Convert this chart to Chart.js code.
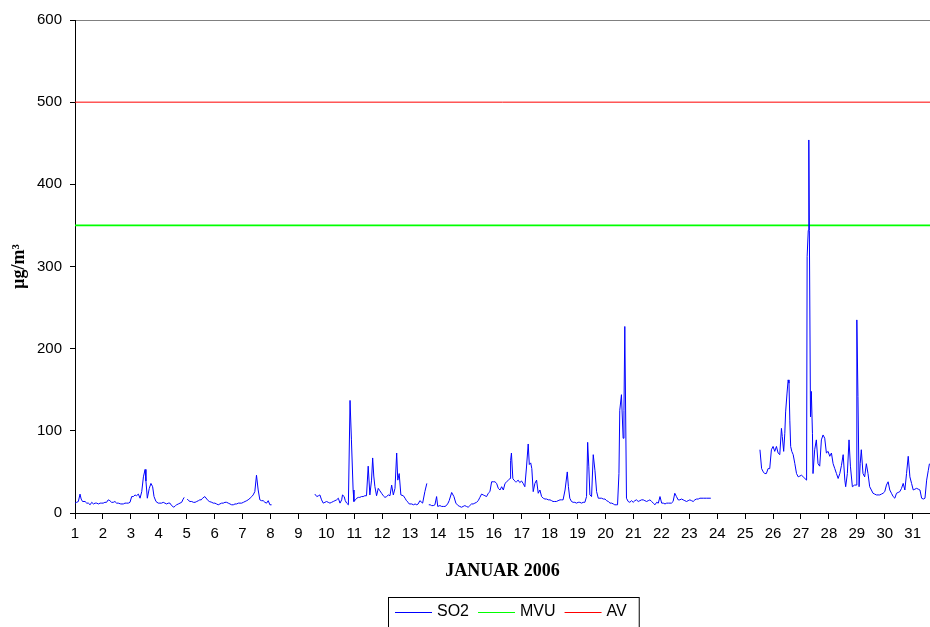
<!DOCTYPE html>
<html>
<head>
<meta charset="utf-8">
<script src="https://cdn.jsdelivr.net/npm/chart.js@4.4.1/dist/chart.umd.min.js"></script>
<style>
  html, body { margin: 0; padding: 0; background: #fff; }
  #chart { display: block; }
</style>
</head>
<body>
<canvas id="chart" width="930" height="627"></canvas>
<script>
const so2Day = [
  1.00, 1.06, 1.12, 1.18, 1.22, 1.27, 1.36, 1.42, 1.48, 1.54, 1.60, 1.66, 1.72, 1.78, 1.84, 1.90, 1.96,
  2.01, 2.07, 2.13, 2.19, 2.25, 2.31, 2.37, 2.43, 2.49, 2.55, 2.64, 2.73, 2.79, 2.85, 2.91, 2.97,
  3.03, 3.09, 3.15, 3.20, 3.27, 3.33, 3.39, 3.45, 3.51, 3.54, 3.59, 3.66, 3.72, 3.78, 3.83, 3.90, 3.98,
  4.04, 4.10, 4.16, 4.22, 4.28, 4.34, 4.40, 4.46, 4.54, 4.60, 4.64, 4.70, 4.76, 4.82, 4.86, 4.91, 4.96,
  5.02, 5.07, 5.12, 5.18, 5.24, 5.30, 5.36, 5.42, 5.47, 5.52, 5.57, 5.65, 5.72, 5.77, 5.81, 5.90, 5.95,
  6.01, 6.07, 6.13, 6.19, 6.25, 6.31, 6.37, 6.43, 6.49, 6.55, 6.61, 6.67, 6.73, 6.79, 6.85, 6.91, 6.97,
  7.03, 7.09, 7.15, 7.20, 7.27, 7.33, 7.38, 7.44, 7.50, 7.56, 7.62, 7.68, 7.74, 7.80, 7.86, 7.92, 7.98,
  8.04, 8.10,
  9.59, 9.66, 9.72, 9.77, 9.83, 9.89, 9.95,
  10.01, 10.07, 10.13, 10.19, 10.25, 10.31, 10.37, 10.43, 10.49, 10.55, 10.58, 10.64, 10.68, 10.73, 10.79, 10.85, 10.90, 10.96, 10.99,
  11.04, 11.09, 11.15, 11.20, 11.26, 11.32, 11.38, 11.44, 11.50, 11.56, 11.62, 11.66, 11.70, 11.74, 11.80, 11.86, 11.92, 11.98,
  12.04, 12.10, 12.16, 12.22, 12.28, 12.34, 12.40, 12.46, 12.52, 12.56, 12.61, 12.67, 12.76, 12.82, 12.87, 12.93, 12.97,
  13.06, 13.12, 13.18, 13.24, 13.29, 13.35, 13.45, 13.53, 13.60, 13.63, 13.67, 13.72, 13.77, 13.83, 13.89, 13.95, 13.99,
  14.07, 14.13, 14.19, 14.25, 14.30, 14.36, 14.40, 14.49, 14.57, 14.64, 14.72, 14.78, 14.84, 14.90, 14.96,
  15.02, 15.08, 15.14, 15.20, 15.26, 15.32, 15.38, 15.44, 15.50, 15.56, 15.62, 15.68, 15.74, 15.80, 15.86, 15.92, 15.98,
  16.04, 16.10, 16.16, 16.22, 16.28, 16.34, 16.40, 16.46, 16.52, 16.58, 16.60, 16.63, 16.68, 16.72, 16.78, 16.81, 16.87, 16.93, 16.99,
  17.05, 17.11, 17.17, 17.23, 17.27, 17.32, 17.36, 17.41, 17.47, 17.53, 17.59, 17.65, 17.71, 17.77, 17.83, 17.89, 17.95,
  18.01, 18.07, 18.12, 18.18, 18.24, 18.30, 18.37, 18.42, 18.48, 18.55, 18.63, 18.67, 18.72, 18.78, 18.84, 18.90, 18.96,
  19.02, 19.08, 19.14, 19.20, 19.26, 19.32, 19.36, 19.40, 19.44, 19.50, 19.56, 19.62, 19.68, 19.74, 19.80, 19.86, 19.92, 19.98,
  20.04, 20.10, 20.16, 20.22, 20.28, 20.33, 20.38, 20.43, 20.48, 20.51, 20.57, 20.63, 20.66, 20.69, 20.75, 20.81, 20.87, 20.93, 20.99,
  21.05, 21.11, 21.17, 21.23, 21.29, 21.35, 21.41, 21.47, 21.53, 21.59, 21.65, 21.71, 21.77, 21.83, 21.89, 21.95,
  22.01, 22.07, 22.13, 22.19, 22.25, 22.31, 22.36, 22.42, 22.48, 22.54, 22.60, 22.66, 22.72, 22.78, 22.84, 22.90, 22.96,
  23.02, 23.08, 23.14, 23.20, 23.26, 23.32, 23.38, 23.50, 23.62, 23.77, 23.80,
  25.53, 25.59, 25.65, 25.70, 25.76, 25.82, 25.88, 25.94,
  26.00, 26.06, 26.12, 26.18, 26.24, 26.30, 26.33, 26.38, 26.42, 26.45, 26.50, 26.54, 26.57, 26.60, 26.63, 26.67, 26.72, 26.78, 26.84, 26.90, 26.96,
  27.02, 27.08, 27.14, 27.20, 27.22, 27.26, 27.28, 27.30, 27.34, 27.37, 27.41, 27.43, 27.49, 27.55, 27.61, 27.67, 27.73, 27.79, 27.85, 27.91, 27.97,
  28.03, 28.09, 28.15, 28.21, 28.27, 28.33, 28.39, 28.45, 28.51, 28.57, 28.60, 28.66, 28.72, 28.77, 28.84, 28.92, 28.98,
  29.00, 29.04, 29.08, 29.12, 29.16, 29.22, 29.28, 29.34, 29.40, 29.46, 29.52, 29.58, 29.64, 29.70, 29.76, 29.82, 29.88, 29.94,
  30.00, 30.06, 30.12, 30.18, 30.24, 30.30, 30.36, 30.42, 30.48, 30.54, 30.60, 30.66, 30.72, 30.78, 30.84, 30.90, 30.96,
  31.02, 31.08, 31.14, 31.20, 31.26, 31.32, 31.38, 31.44, 31.50, 31.56, 31.60
];

// SO2 concentration in µg/m³, same order as so2Day
const so2Value = [
  12, 13, 14, 23, 17, 14, 14, 12, 12, 10, 13, 11, 12, 12, 11, 12, 12,
  12, 13, 13, 16, 15, 13, 13, 14, 12, 12, 11, 11, 12, 12, 12, 13,
  20, 20, 22, 21, 23, 18, 26, 44, 53, 39, 18, 30, 36, 32, 20, 14, 12,
  12, 12, 13, 12, 11, 12, 12, 9, 7, 9, 10, 11, 12, 13, 16, 19, null,
  17, 15, 14, 14, 13, 13, 14, 15, 16, 16, 18, 20, 17, 15, 14, 13, 12,
  12, 11, 10, 11, 12, 12, 13, 13, 12, 11, 10, 10, 11, 11, 12, 12, 12,
  13, 14, 15, 16, 18, 20, 22, 26, 46, 28, 16, 15, 15, 13, 12, 15, 10,
  10, null,
  23, 20, 21, 22, 16, 12, 13,
  14, 13, 12, 13, 14, 15, 16, 18, 12, 16, 22, 20, 15, 12, 10, 137, 89, 28, 14,
  16, 18, 19, 19, 20, 20, 21, 21, 57, 22, 40, 67, 45, 32, 21, 30, 27, 24,
  21, 19, 20, 22, 21, 34, 22, 30, 73, 40, 48, 22, 21, 18, 15, 13, 11,
  11, 10, 11, 10, 11, 15, 12, 26, 36, null, 10, 10, 9, 9, 10, 20, 8,
  9, 8, 8, 8, 9, 12, 15, 25, 20, 12, 9, 8, 7, 8, 9,
  8, 7, 9, 11, 11, 12, 13, 15, 19, 23, 22, 21, 20, 24, 26, 38, 38,
  38, 36, 30, 28, 32, 28, 36, 38, 40, 42, 64, 73, 42, 40, 38, 38, 40, 37, 39,
  36, 32, 56, 84, 59, 61, 54, 26, 36, 40, 24, 28, 20, 18, 17, 17, 16,
  16, 15, 14, 14, 14, 15, 16, 16, 16, 28, 50, 32, 18, 14, 13, 13, 12,
  13, 13, 12, 13, 13, 20, 86, 57, 22, 20, 71, 52, 26, 18, 18, 18, 17, 17,
  15, 14, 12, 12, 11, 10, 10, 10, 48, 125, 144, 91, 125, 227, 18, 14, 13, 15, 13,
  15, 16, 14, 15, 16, 16, 15, 14, 15, 16, 14, 12, 10, 13, 12, 20,
  12, 12, 11, 12, 12, 12, 12, 14, 24, 20, 16, 16, 17, 16, 15, 14, 15,
  16, 15, 14, 16, 17, 17, 18, 18, 18, 18, null,
  77, 54, 50, 48, 48, 54, 54, 77,
  81, 75, 81, 73, 71, 103, 93, 75, 97, 123, 146, 162, 158, 113, 81, 75, 71, 60, 48, 44, 45,
  46, 44, 42, 40, 312, 344, 454, 344, 117, 148, 97, 48, 77, 89, 60, 57, 89, 95, 91, 73, 75,
  69, 73, 60, 54, 48, 42, 48, 58, 71, 40, 32, 48, 89, 57, 32, 34, 34,
  235, 142, 32, 60, 77, 48, 44, 60, 48, 32, 28, 24, 23, 22, 22, 22, 23, 24,
  26, 34, 38, 28, 24, 20, 18, 24, 25, 26, 30, 36, 28, 48, 69, 44, 36,
  28, 29, 30, 29, 28, 18, 17, 18, 40, 52, 60
];

const dayTicks = [1, 2, 3, 4, 5, 6, 7, 8, 9, 10, 11, 12, 13, 14, 15, 16,
  17, 18, 19, 20, 21, 22, 23, 24, 25, 26, 27, 28, 29, 30, 31];
const monthEnd = 31.62;   // last hour shown on the axis
const mvuLimit = 350;
const avLimit = 500;
const yTicks = [0, 100, 200, 300, 400, 500, 600];

const sansFont = '"Liberation Sans", Arial, sans-serif';
const serifFont = '"Liberation Serif", "Times New Roman", serif';

// legend with a frame, like the original
const framedLegend = {
    id: 'framedLegend',
    afterDraw(chart) {
        const ctx = chart.ctx;
        const items = chart.data.datasets;
        const lineLen = 37;
        const gapAfterLine = 5;
        const gapAfterText = 9;
        const boxLeft = 388, boxTop = 597, midY = 612;
        ctx.save();
        ctx.font = '16px ' + sansFont;
        ctx.textBaseline = 'middle';
        let x = boxLeft + 7;
        items.forEach(ds => {
            ctx.strokeStyle = ds.borderColor;
            ctx.lineWidth = 1;
            ctx.beginPath();
            ctx.moveTo(x, midY + 0.5);
            ctx.lineTo(x + lineLen, midY + 0.5);
            ctx.stroke();
            x += lineLen + gapAfterLine;
            ctx.fillStyle = '#000';
            ctx.fillText(ds.label, x, midY);
            x += ctx.measureText(ds.label).width + gapAfterText;
        });
        ctx.strokeStyle = '#000';
        ctx.strokeRect(boxLeft + 0.5, boxTop + 0.5, x - boxLeft + 3, 40);
        ctx.restore();
    }
};

const so2Points = so2Day.map((d, i) => ({ x: d, y: so2Value[i] }));

new Chart(document.getElementById('chart'), {
    type: 'line',
    data: {
        datasets: [{
            label: 'SO2',
            data: so2Points,
            borderColor: '#0000ff',
            borderWidth: 1,
            pointRadius: 0,
            tension: 0,
            spanGaps: false
        }, {
            label: 'MVU',
            data: [{ x: dayTicks[0], y: mvuLimit }, { x: monthEnd, y: mvuLimit }],
            borderColor: '#00ff00',
            borderWidth: 1.6,
            pointRadius: 0
        }, {
            label: 'AV',
            data: [{ x: dayTicks[0], y: avLimit }, { x: monthEnd, y: avLimit }],
            borderColor: '#ff0000',
            borderWidth: 1,
            pointRadius: 0
        }]
    },
    options: {
        responsive: false,
        animation: false,
        devicePixelRatio: 1,
        layout: { padding: { top: 20, left: 0, right: 0, bottom: 0 } },
        plugins: {
            legend: { display: false },
            tooltip: { enabled: false }
        },
        scales: {
            x: {
                type: 'linear',
                min: dayTicks[0],
                max: monthEnd,
                afterBuildTicks: scale => {
                    scale.ticks = dayTicks.map(v => ({ value: v }));
                },
                afterFit: scale => { scale.height = 114; },
                ticks: {
                    autoSkip: false,
                    maxRotation: 0,
                    padding: 6,
                    color: '#000',
                    font: { size: 15, family: sansFont }
                },
                grid: {
                    color: 'transparent',
                    tickColor: '#000',
                    tickLength: 6
                },
                border: { display: true, color: '#000', width: 1 },
                title: {
                    display: true,
                    text: 'JANUAR 2006',
                    color: '#000',
                    font: { size: 18, weight: 'bold', family: serifFont },
                    padding: { top: 0, bottom: 45 }
                }
            },
            y: {
                min: yTicks[0],
                max: yTicks[yTicks.length - 1],
                afterBuildTicks: scale => {
                    scale.ticks = yTicks.map(v => ({ value: v }));
                },
                afterFit: scale => { scale.width = 75; },
                ticks: {
                    padding: 8,
                    color: '#000',
                    font: { size: 15, family: sansFont }
                },
                grid: {
                    color: ctx => (ctx.tick && ctx.tick.value === 600) ? '#808080' : 'transparent',
                    tickColor: '#000',
                    tickLength: 5
                },
                border: { display: true, color: '#000', width: 1 },
                title: {
                    display: true,
                    text: 'µg/m³',
                    color: '#000',
                    font: { size: 18, weight: 'bold', family: serifFont },
                    padding: { top: 9, bottom: 0 }
                }
            }
        }
    },
    plugins: [framedLegend]
});
</script>
</body>
</html>
